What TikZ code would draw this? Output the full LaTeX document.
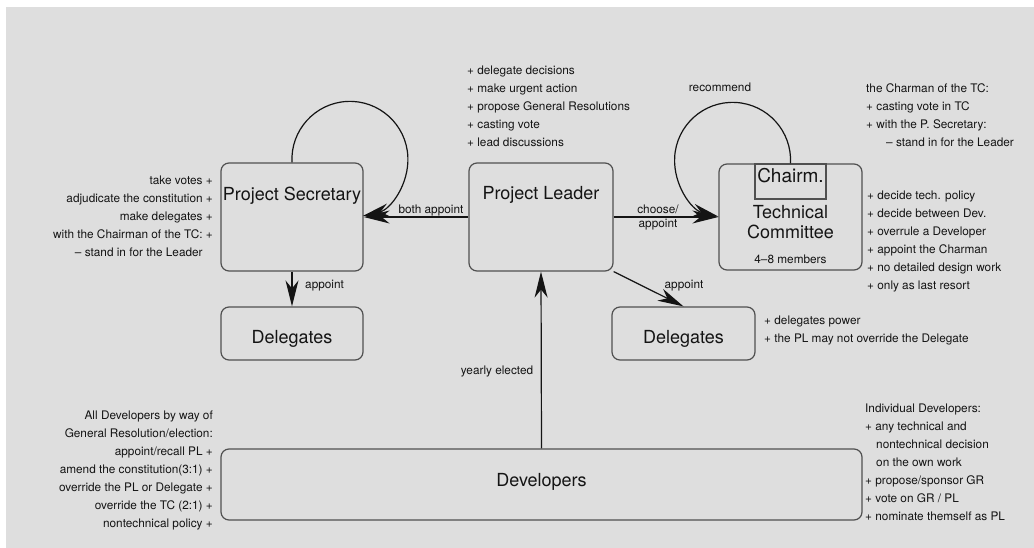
\documentclass[tikz,border=0pt]{standalone}
\usepackage{fontspec}
\setmainfont{TeX Gyre Heros}
\usetikzlibrary{arrows.meta}
\definecolor{bggray}{RGB}{222,222,222}
\definecolor{boxgray}{RGB}{80,80,80}
\definecolor{ink}{RGB}{20,20,20}
\begin{document}
\begin{tikzpicture}[x=1pt,y=-1pt,
  box/.style={draw=boxgray, line width=1.2pt, rounded corners=8pt, inner sep=0pt},
  title/.style={font=\fontsize{18}{21}\selectfont, text=ink, inner sep=0pt},
  small/.style={font=\fontsize{11.8}{18}\selectfont, text=ink, inner sep=0pt},
  conn/.style={draw=ink, line width=1.2pt},
  arr/.style={conn, -{Stealth[length=26pt,width=13pt,inset=8pt]}}]
\useasboundingbox (0,0) rectangle (1034,548);
\fill[bggray] (6,7) rectangle (1034,548);

% boxes
\node[box, minimum width=142pt, minimum height=108pt] (ps) at (292,217) {};
\node[box, minimum width=144pt, minimum height=108pt] (pl) at (541,217) {};
\node[box, minimum width=143pt, minimum height=106pt] (tc) at (790.5,217) {};
\node[draw=boxgray, line width=1.2pt, inner sep=0pt, minimum width=71pt, minimum height=35pt] (chairm) at (790.5,181.5) {};
\node[box, minimum width=142pt, minimum height=53pt] (del1) at (292,333.5) {};
\node[box, minimum width=143pt, minimum height=53pt] (del2) at (683.5,333.5) {};
\node[box, minimum width=641pt, minimum height=71pt] (dev) at (541.5,484.5) {};

% titles
\node[title, anchor=base] (pst) at (292,201) {Project Secretary};
\node[title, anchor=base] (plt) at (541,200) {Project Leader};
\node[title, anchor=base, font=\fontsize{19}{21}\selectfont] (cht) at (790.5,183) {Chairm.};
\node[title, anchor=base] (tct1) at (790.5,219) {Technical};
\node[title, anchor=base] (tct2) at (790.5,239) {Committee};
\node[small, anchor=base] (tcm) at (790.5,264) {4–8 members};
\node[title, anchor=base] (d1t) at (292,343) {Delegates};
\node[title, anchor=base] (d2t) at (683.5,343) {Delegates};
\node[title, anchor=base] (devt) at (541.5,486) {Developers};

% connectors
\draw[arr] (pl.west) -- (ps.east);
\draw[arr] (ps.north) arc[start angle=177, end angle=437, radius=58];
\draw[arr] (ps.south) -- (del1.north);
\draw[arr] (pl.east) -- (tc.west);
\draw[arr] (chairm.north) arc[start angle=3, end angle=-256, radius=58];
\draw[arr] (pl.south east) -- (del2.north);
\draw[arr] (dev.north) -- (pl.south);

% connector labels
\node[small, anchor=base] (lbBoth) at (431,214) {both appoint};
\node[small, anchor=base west] (lbApp1) at (305,288) {appoint};
\node[small, anchor=base] (lbChoose) at (658,214) {choose/};
\node[small, anchor=base] (lbAppC) at (658,228) {appoint};
\node[small, anchor=base] (lbApp2) at (684,288) {appoint};
\node[small, anchor=base] (lbRec) at (720,92) {recommend};
\node[small, anchor=base] (lbYear) at (497,374) {yearly elected};

% text blocks
\node[small, anchor=north west, align=left] (plnotes) at (467,65.5) {+ delegate decisions\\+ make urgent action\\+ propose General Resolutions\\+ casting vote\\+ lead discussions};
\node[small, anchor=north east, align=right] (psnotes) at (213,175.5) {take votes +\\adjudicate the constitution +\\make delegates +\\with the Chairman of the TC: +\\– stand in for the Leader\hphantom{ +}};
\node[small, anchor=north west, align=left] (chnotes) at (866,83.5) {the Charman of the TC:\\+ casting vote in TC\\+ with the P. Secretary:\\\hspace*{20pt}– stand in for the Leader};
\node[small, anchor=north west, align=left] (tcnotes) at (867,190.5) {+ decide tech. policy\\+ decide between Dev.\\+ overrule a Developer\\+ appoint the Charman\\+ no detailed design work\\+ only as last resort};
\node[small, anchor=north west, align=left] (d2notes) at (764,315.5) {+ delegates power\\+ the PL may not override the Delegate};
\node[small, anchor=north east, align=right] (alldev) at (213,410.5) {All Developers by way of\\General Resolution/election:\\appoint/recall PL +\\amend the constitution(3:1) +\\override the PL or Delegate +\\override the TC (2:1) +\\nontechnical policy +};
\node[small, anchor=north west, align=left] (inddev) at (865,403.5) {Individual Developers:\\+ any technical and\\\hspace*{11pt}nontechnical decision\\\hspace*{11pt}on the own work\\+ propose/sponsor GR\\+ vote on GR / PL\\+ nominate themself as PL};
\end{tikzpicture}
\end{document}
